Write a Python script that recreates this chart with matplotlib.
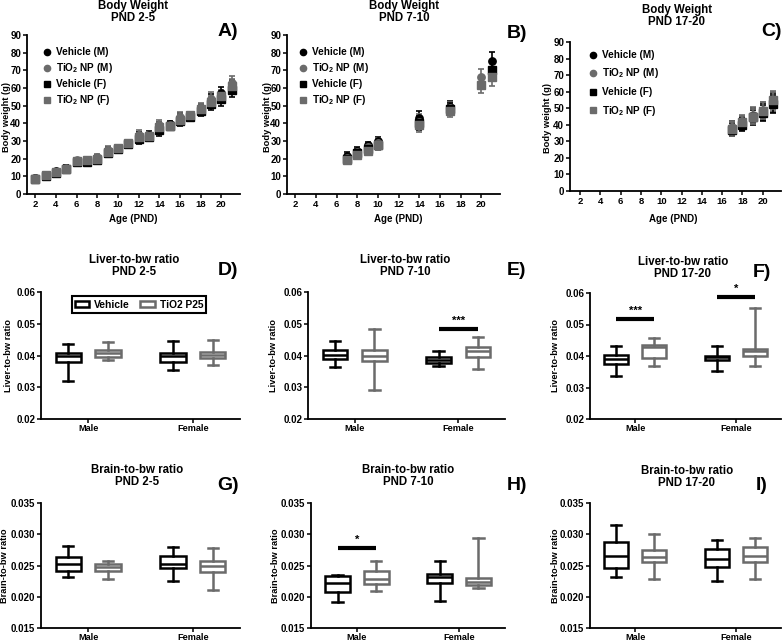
import numpy as np
import matplotlib
import matplotlib.pyplot as plt
from matplotlib.patches import Patch
from matplotlib.lines import Line2D

matplotlib.rcParams['font.family'] = ['Liberation Sans', 'DejaVu Sans']
matplotlib.rcParams['font.weight'] = 'bold'
matplotlib.rcParams['mathtext.fontset'] = 'custom'
matplotlib.rcParams['mathtext.bf'] = 'Liberation Sans:bold'
matplotlib.rcParams['mathtext.rm'] = 'Liberation Sans:bold'

W, H = 783, 643
BLACK = '#000000'
GRAY = '#6b6b6b'

# ---- body weight data (g) ----
AGE_A = [2, 3, 4, 5, 6, 7, 8, 9, 10, 11, 12, 13, 14, 15, 16, 17, 18, 19, 20, 21]
VEH_M_A = [9.0, 10.8, 12.8, 14.8, 18.5, 19.5, 20.5, 24.5, 26.0, 29.0, 32.5, 33.5, 37.5, 39.5, 43.0, 44.5, 48.0, 53.0, 57.0, 60.5]
TIO2_M_A = [8.8, 10.5, 12.5, 14.5, 19.0, 19.0, 21.0, 25.0, 25.5, 29.0, 33.5, 33.0, 39.0, 39.0, 43.5, 44.0, 48.5, 54.0, 55.0, 63.0]
VEH_F_A = [8.5, 10.3, 12.0, 14.0, 18.0, 18.0, 19.5, 23.0, 25.5, 28.5, 31.0, 32.5, 36.0, 38.5, 41.5, 43.5, 47.0, 51.0, 53.5, 59.0]
TIO2_F_A = [8.6, 10.6, 12.3, 14.2, 18.5, 19.5, 20.0, 24.0, 25.8, 28.7, 32.0, 33.0, 38.0, 38.5, 42.0, 44.5, 48.0, 52.0, 55.5, 61.0]
SD_A = [1.0, 1.0, 1.0, 1.5, 1.5, 1.5, 1.5, 2.0, 1.5, 1.5, 2.5, 2.0, 3.0, 2.0, 3.0, 2.0, 3.0, 3.5, 3.5, 4.0]

AGE_B = [7, 8, 9, 10, 14, 17, 20, 21]
VEH_M_B = [21.5, 24.5, 27.5, 30.0, 43.0, 49.0, np.nan, 75.5]
TIO2_M_B = [20.5, 23.5, 26.5, 29.0, 41.0, 48.5, 66.0, np.nan]
VEH_F_B = [20.0, 23.0, 25.5, 28.0, 40.0, 48.0, np.nan, 70.0]
TIO2_F_B = [19.0, 22.0, 24.5, 27.5, 39.0, 47.0, 61.5, 66.0]
SD_B = [2.0, 2.0, 2.0, 2.5, 4.0, 3.5, 4.5, 5.0]

AGE_C = [17, 18, 19, 20, 21]
VEH_M_C = [38.0, 41.0, 45.5, 48.0, 53.5]
TIO2_M_C = [38.5, 42.0, 46.0, 49.0, 54.0]
VEH_F_C = [37.0, 40.0, 44.5, 47.0, 52.5]
TIO2_F_C = [37.5, 41.5, 45.0, 48.5, 55.0]
SD_C = [4.0, 4.0, 4.5, 5.0, 5.5]

# ---- box stats: (whislo, q1, med, q3, whishi) for Male/Female x Vehicle/TiO2 ----
GROUPS = ['Male', 'Female']
LIVER_D = {'veh': [(0.0320, 0.0381, 0.0397, 0.0407, 0.0437), (0.0355, 0.0378, 0.0397, 0.0407, 0.0447)],
           'tio2': [(0.0386, 0.0395, 0.0407, 0.0418, 0.0443), (0.0369, 0.0393, 0.0403, 0.0412, 0.0449)]}
LIVER_E = {'veh': [(0.0365, 0.0389, 0.0403, 0.0416, 0.0447), (0.0366, 0.0377, 0.0387, 0.0394, 0.0413)],
           'tio2': [(0.0290, 0.0383, 0.0400, 0.0416, 0.0484), (0.0358, 0.0396, 0.0413, 0.0428, 0.0458)]}
LIVER_F = {'veh': [(0.0337, 0.0375, 0.0390, 0.0403, 0.0432), (0.0353, 0.0387, 0.0396, 0.0401, 0.0432)],
           'tio2': [(0.0368, 0.0393, 0.0427, 0.0436, 0.0456), (0.0368, 0.0400, 0.0417, 0.0423, 0.0551)]}
BRAIN_G = {'veh': [(0.0232, 0.0241, 0.0253, 0.0263, 0.0282), (0.0225, 0.0246, 0.0252, 0.0266, 0.0279)],
           'tio2': [(0.0229, 0.0242, 0.0248, 0.0252, 0.0258), (0.0211, 0.0240, 0.0250, 0.0257, 0.0278)]}
BRAIN_H = {'veh': [(0.0191, 0.0208, 0.0222, 0.0233, 0.0235), (0.0193, 0.0222, 0.0231, 0.0237, 0.0257)],
           'tio2': [(0.0210, 0.0220, 0.0229, 0.0241, 0.0258), (0.0214, 0.0219, 0.0224, 0.0230, 0.0294)]}
BRAIN_I = {'veh': [(0.0231, 0.0246, 0.0266, 0.0287, 0.0315), (0.0225, 0.0247, 0.0260, 0.0277, 0.0291)],
           'tio2': [(0.0228, 0.0255, 0.0263, 0.0275, 0.0301), (0.0228, 0.0255, 0.0266, 0.0279, 0.0294)]}

# significance: (group index, bar y, label)
SIG_E = [(1, 0.0484, '***')]
SIG_F = [(0, 0.0516, '***'), (1, 0.0586, '*')]
SIG_H = [(0, 0.0278, '*')]

fig = plt.figure(figsize=(W / 100, H / 100), dpi=100)


def px_axes(l, t, r, b):
    return fig.add_axes([l / W, 1 - b / H, (r - l) / W, (b - t) / H])


def ftext(x, y, s, **kw):
    fig.text(x / W, 1 - y / H, s, ha=kw.pop('ha', 'center'), va=kw.pop('va', 'center'),
             fontweight='bold', **kw)


def style_axes(ax):
    for side in ['top', 'right']:
        ax.spines[side].set_visible(False)
    for side in ['left', 'bottom']:
        ax.spines[side].set_linewidth(1.3)
    ax.tick_params(direction='out', length=3, width=1.1, labelsize=7, pad=1.2)
    for lab in ax.get_xticklabels() + ax.get_yticklabels():
        lab.set_fontweight('bold')


def weight_panel(box, ages, vm, tm, vf, tf, sd, xlim, legend_xy, leg_sp):
    ax = px_axes(*box)
    series = [(vm, 'o', BLACK, 'Vehicle (M)'), (tm, 'o', GRAY, 'TiO$_{\\mathbf{2}}$ NP (M)'),
              (vf, 's', BLACK, 'Vehicle (F)'), (tf, 's', GRAY, 'TiO$_{\\mathbf{2}}$ NP (F)')]
    for vals, mk, col, _ in series:
        ax.errorbar(ages, vals, yerr=sd, fmt=mk, color=col, ms=5.3, elinewidth=1.2,
                    capsize=2.5, capthick=1.2)
    handles = [Line2D([], [], marker=mk, color=col, ls='none', ms=4.5) for _, mk, col, _ in series]
    fig.legend(handles, [s[3] for s in series], loc='upper left',
               bbox_to_anchor=(legend_xy[0] / W, 1 - legend_xy[1] / H), frameon=False,
               fontsize=7.2, handletextpad=0.4, labelspacing=leg_sp, handlelength=1.0,
               borderaxespad=0, borderpad=0)
    ax.set_xlim(*xlim)
    ax.set_ylim(0, 90)
    ax.set_xticks(range(2, 21, 2))
    ax.set_yticks(range(0, 91, 10))
    style_axes(ax)
    ax.tick_params(axis='x', labelsize=6.8)
    return ax


def box_panel(box, data, ylim, yticks, fmt, sigs):
    ax = px_axes(*box)
    off = 0.19
    for key, col, sign in [('veh', BLACK, -1), ('tio2', GRAY, 1)]:
        stats = [dict(whislo=s[0], q1=s[1], med=s[2], q3=s[3], whishi=s[4], fliers=[])
                 for s in data[key]]
        pos = [i + sign * off for i in range(len(GROUPS))]
        lp = dict(color=col, linewidth=1.8)
        ax.bxp(stats, positions=pos, widths=0.24, patch_artist=True, showfliers=False,
               boxprops=dict(facecolor='white', edgecolor=col, linewidth=1.8),
               medianprops=lp, whiskerprops=lp, capprops=lp, capwidths=0.1,
               manage_ticks=False)
    yr = ylim[1] - ylim[0]
    for gi, y, lab in sigs:
        ax.plot([gi - off, gi + off], [y, y], color=BLACK, lw=3, clip_on=False,
                solid_capstyle='butt')
        ax.text(gi, y + yr * 0.025, lab, ha='center', va='bottom', fontsize=8,
                fontweight='bold', clip_on=False)
    ax.set_xlim(-0.45, 1.45)
    ax.set_ylim(*ylim)
    ax.set_xticks(range(len(GROUPS)))
    ax.set_xticklabels(GROUPS)
    ax.set_yticks(yticks)
    ax.set_yticklabels([fmt.format(v) for v in yticks])
    style_axes(ax)
    ax.tick_params(axis='x', labelsize=6.6, pad=0.8)
    return ax


# ---- top row: body weight ----
weight_panel((27, 35, 240, 194), AGE_A, VEH_M_A, TIO2_M_A, VEH_F_A, TIO2_F_A, SD_A,
             (1.2, 21.8), (42, 47), 0.4)
weight_panel((287, 35, 500, 194), AGE_B, VEH_M_B, TIO2_M_B, VEH_F_B, TIO2_F_B, SD_B,
             (1.2, 21.8), (298, 47), 0.4)
weight_panel((570, 42, 781, 191), AGE_C, VEH_M_C, TIO2_M_C, VEH_F_C, TIO2_F_C, SD_C,
             (1.0, 21.8), (588, 50), 0.65)

# ---- liver ratio ----
liver_ticks = [0.02, 0.03, 0.04, 0.05, 0.06]
box_panel((41, 292, 240, 419), LIVER_D, (0.02, 0.06), liver_ticks, '{:.2f}', [])
box_panel((308, 292, 505, 419), LIVER_E, (0.02, 0.06), liver_ticks, '{:.2f}', SIG_E)
box_panel((590, 293, 781, 419), LIVER_F, (0.02, 0.06), liver_ticks, '{:.2f}', SIG_F)

leg_h = [Patch(facecolor='white', edgecolor=BLACK, linewidth=1.8),
         Patch(facecolor='white', edgecolor=GRAY, linewidth=1.8)]
leg = fig.legend(leg_h, ['Vehicle', 'TiO2 P25'], loc='center', ncol=2,
                 bbox_to_anchor=(139 / W, 1 - 304.5 / H), fontsize=7.4, frameon=True,
                 fancybox=False, edgecolor=BLACK, framealpha=1, handlelength=1.4,
                 handleheight=0.6, handletextpad=0.5, columnspacing=1.0,
                 borderpad=0.3)
leg.get_frame().set_linewidth(1.5)

# ---- brain ratio ----
brain_ticks = [0.015, 0.020, 0.025, 0.030, 0.035]
box_panel((41, 503, 240, 628), BRAIN_G, (0.015, 0.035), brain_ticks, '{:.3f}', [])
box_panel((311, 503, 505, 628), BRAIN_H, (0.015, 0.035), brain_ticks, '{:.3f}', SIG_H)
box_panel((590, 503, 781, 628), BRAIN_I, (0.015, 0.035), brain_ticks, '{:.3f}', [])

# ---- titles, axis labels, panel letters ----
TITLE_FS = 8.3
for x, y, s in [(133, 12, 'Body Weight\nPND 2-5'), (404, 12, 'Body Weight\nPND 7-10'),
                (677, 16, 'Body Weight\nPND 17-20'),
                (134, 266, 'Liver-to-bw ratio\nPND 2-5'), (405, 266, 'Liver-to-bw ratio\nPND 7-10'),
                (683, 268, 'Liver-to-bw ratio\nPND 17-20'),
                (137, 476, 'Brain-to-bw ratio\nPND 2-5'), (408, 476, 'Brain-to-bw ratio\nPND 7-10'),
                (687, 477, 'Brain-to-bw ratio\nPND 17-20')]:
    ftext(x, y, s, fontsize=TITLE_FS, linespacing=1.0)

for x, s in [(133, 'Age (PND)'), (398, 'Age (PND)'), (673, 'Age (PND)')]:
    ftext(x, 219, s, fontsize=7)

for x, y, s in [(7, 117, 'Body weight (g)'), (267, 117, 'Body weight (g)'), (548, 118, 'Body weight (g)'),
                (9, 356, 'Liver-to-bw ratio'), (274, 356, 'Liver-to-bw ratio'), (556, 356, 'Liver-to-bw ratio'),
                (5, 566, 'Brain-to-bw ratio'), (275, 566, 'Brain-to-bw ratio'), (555, 566, 'Brain-to-bw ratio')]:
    ftext(x, y, s, fontsize=6.7, rotation=90)

for x, y, s in [(228, 32, 'A)'), (517, 33, 'B)'), (772, 31, 'C)'),
                (228, 270, 'D)'), (517, 270, 'E)'), (762, 273, 'F)'),
                (228, 485, 'G)'), (517, 485, 'H)'), (762, 485, 'I)')]:
    ftext(x, y, s, fontsize=14)

fig.savefig('out.png', dpi=100)
